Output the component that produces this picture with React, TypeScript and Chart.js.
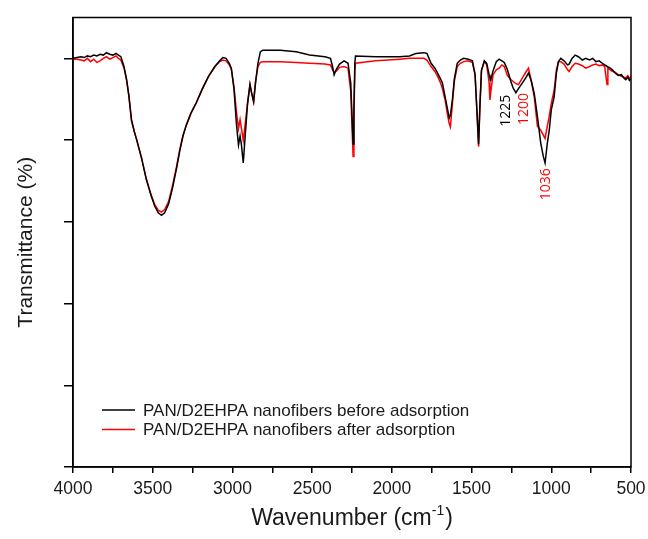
import React, { useEffect, useRef } from "react";
import { Chart, registerables } from "chart.js";

Chart.register(...registerables);

const wavenumber = [
  4000, 3975, 3950, 3930, 3910, 3890, 3870, 3850, 3830, 3810, 3790, 3770, 3750, 3730, 3715, 3700,
  3680, 3664, 3650, 3633, 3615, 3600, 3570, 3540, 3510, 3487, 3465, 3445, 3425, 3400, 3375, 3350,
  3330, 3310, 3290, 3260, 3226, 3190, 3150, 3110, 3080, 3060, 3040, 3020, 3007, 2990, 2975, 2962,
  2952, 2944, 2932, 2920, 2905, 2890, 2880, 2867, 2855, 2840, 2825, 2810, 2700, 2600, 2516, 2420,
  2385, 2372, 2362, 2350, 2328, 2300, 2275, 2258, 2248, 2243, 2238, 2232, 2228, 2100, 1950, 1890,
  1850, 1800, 1780, 1754, 1730, 1713, 1695, 1683, 1665, 1650, 1640, 1633, 1620, 1608, 1590, 1570,
  1550, 1520, 1495, 1478, 1465, 1456, 1448, 1438, 1420, 1405, 1390, 1385, 1379, 1365, 1345, 1327,
  1310, 1295, 1275, 1254, 1240, 1222, 1206, 1181, 1160, 1143, 1125, 1107, 1087, 1066, 1050, 1039,
  1025, 1013, 1000, 982, 968, 955, 940, 920, 898, 888, 870, 850, 830, 805, 784, 760,
  740, 720, 700, 680, 665, 655, 650, 645, 630, 617, 600, 580, 560, 545, 533, 520,
  510, 500,
];

const beforeAdsorption = [
  5.00, 5.01, 5.02, 5.01, 5.03, 5.02, 5.04, 5.03, 5.05, 5.04, 5.07, 5.05, 5.04, 5.06, 5.04, 5.02,
  4.90, 4.74, 4.55, 4.25, 4.10, 4.00, 3.78, 3.52, 3.32, 3.19, 3.11, 3.08, 3.11, 3.22, 3.42, 3.66,
  3.87, 4.05, 4.18, 4.33, 4.46, 4.62, 4.78, 4.90, 4.97, 5.01, 5.00, 4.94, 4.88, 4.62, 4.20, 3.94,
  4.05, 3.95, 3.72, 4.05, 4.45, 4.68, 4.58, 4.47, 4.70, 4.94, 5.08, 5.10, 5.10, 5.08, 5.04, 5.02,
  5.00, 4.90, 4.80, 4.86, 4.93, 4.97, 4.94, 4.70, 4.20, 3.95, 4.40, 4.95, 5.03, 5.02, 5.02, 5.03,
  5.06, 5.07, 5.06, 4.94, 4.88, 4.82, 4.75, 4.70, 4.52, 4.37, 4.27, 4.30, 4.50, 4.75, 4.94, 4.98,
  5.00, 4.99, 4.97, 4.80, 4.30, 3.95, 4.40, 4.85, 4.97, 4.94, 4.80, 4.76, 4.74, 4.85, 4.96, 4.99,
  4.97, 4.95, 4.86, 4.72, 4.64, 4.58, 4.63, 4.70, 4.76, 4.82, 4.72, 4.57, 4.29, 3.96, 3.80, 3.72,
  3.96, 4.12, 4.37, 4.53, 4.82, 4.96, 5.00, 4.97, 4.92, 4.93, 5.00, 5.04, 5.02, 4.98, 5.00, 4.98,
  5.00, 4.96, 4.97, 4.94, 4.92, 4.91, 4.90, 4.90, 4.88, 4.86, 4.82, 4.79, 4.80, 4.76, 4.74, 4.77,
  4.73, 4.75,
];

const afterAdsorption = [
  4.99, 4.99, 4.98, 4.97, 5.00, 4.96, 4.99, 4.95, 4.97, 5.00, 5.02, 4.99, 5.01, 5.03, 5.00, 4.98,
  4.88, 4.74, 4.55, 4.23, 4.10, 4.00, 3.78, 3.52, 3.33, 3.21, 3.14, 3.12, 3.15, 3.25, 3.45, 3.68,
  3.89, 4.06, 4.18, 4.33, 4.46, 4.62, 4.78, 4.90, 4.96, 4.98, 4.97, 4.92, 4.87, 4.65, 4.35, 4.14,
  4.25, 4.15, 4.00, 4.20, 4.45, 4.68, 4.58, 4.47, 4.72, 4.90, 4.95, 4.96, 4.96, 4.95, 4.94, 4.93,
  4.92, 4.86, 4.83, 4.84, 4.89, 4.90, 4.88, 4.60, 4.05, 3.80, 4.30, 4.85, 4.94, 4.97, 4.99, 5.00,
  5.00, 5.00, 4.98, 4.90, 4.84, 4.78, 4.70, 4.63, 4.48, 4.30, 4.20, 4.16, 4.45, 4.72, 4.90, 4.94,
  4.96, 4.97, 4.95, 4.80, 4.30, 3.92, 4.40, 4.85, 4.96, 4.92, 4.70, 4.49, 4.60, 4.80, 4.86, 4.88,
  4.92, 4.90, 4.79, 4.74, 4.72, 4.69, 4.68, 4.76, 4.83, 4.88, 4.72, 4.53, 4.17, 4.12, 4.06, 4.02,
  4.17, 4.29, 4.45, 4.61, 4.86, 4.96, 4.96, 4.93, 4.86, 4.84, 4.90, 4.94, 4.93, 4.91, 4.88, 4.90,
  4.92, 4.93, 4.91, 4.92, 4.90, 4.75, 4.68, 4.88, 4.86, 4.84, 4.83, 4.80, 4.78, 4.77, 4.76, 4.79,
  4.75, 4.78,
];

const xTickValues = [4000, 3750, 3500, 3250, 3000, 2750, 2500, 2250, 2000, 1750, 1500, 1250, 1000, 750, 500];
const yTickValues = [0, 1, 2, 3, 4, 5];

const seriesNames = [
  "PAN/D2EHPA nanofibers before adsorption",
  "PAN/D2EHPA nanofibers after adsorption",
];
const seriesColors = ["#000000", "#ff0000"];

const peakLabels = ["1225", "1200", "1036"];
const peakLabelWn = [1285, 1172, 1034];
const peakLabelT = [4.36, 4.38, 3.46];
const peakLabelColors = ["#000000", "#ff0000", "#ff0000"];

const ARIAL = "'Liberation Sans', Arial, sans-serif";

const decorPlugin = {
  id: "decor",
  afterDraw(chart: any) {
    const { ctx, chartArea, scales } = chart;
    const { left, right, top, bottom } = chartArea;
    ctx.save();
    // frame
    ctx.strokeStyle = "#000";
    ctx.lineWidth = 1.5;
    ctx.strokeRect(left, top, right - left, bottom - top);

    // legend
    const lx0 = left + 29;
    const lx1 = left + 62;
    const ly = [bottom - 57, bottom - 37.5];
    ctx.font = `17px ${ARIAL}`;
    ctx.textBaseline = "middle";
    ctx.textAlign = "left";
    for (let i = 0; i < seriesNames.length; i++) {
      ctx.strokeStyle = seriesColors[i];
      ctx.lineWidth = 1.5;
      ctx.beginPath();
      ctx.moveTo(lx0, ly[i]);
      ctx.lineTo(lx1, ly[i]);
      ctx.stroke();
      ctx.fillStyle = "#1a1a1a";
      ctx.fillText(seriesNames[i], lx1 + 8, ly[i] + 1);
    }

    // peak labels
    ctx.font = "14px 'Open Sans', sans-serif";
    ctx.textAlign = "center";
    ctx.textBaseline = "middle";
    for (let i = 0; i < peakLabels.length; i++) {
      const px = scales.x.getPixelForValue(peakLabelWn[i]);
      const py = scales.y.getPixelForValue(peakLabelT[i]);
      ctx.save();
      ctx.translate(px, py);
      ctx.rotate(-Math.PI / 2);
      ctx.fillStyle = peakLabelColors[i];
      ctx.fillText(peakLabels[i], 0, 0);
      ctx.restore();
    }

    // y title
    ctx.save();
    ctx.font = `21px ${ARIAL}`;
    ctx.fillStyle = "#1a1a1a";
    ctx.translate(26, (top + bottom) / 2);
    ctx.rotate(-Math.PI / 2);
    ctx.textAlign = "center";
    ctx.textBaseline = "middle";
    ctx.fillText("Transmittance (%)", 0, 0);
    ctx.restore();

    // x title with superscript
    const mainFont = `23px ${ARIAL}`;
    const supFont = `14px ${ARIAL}`;
    const p1 = "Wavenumber (cm";
    const sup = "-1";
    const p2 = ")";
    ctx.font = mainFont;
    const w1 = ctx.measureText(p1).width;
    const w3 = ctx.measureText(p2).width;
    ctx.font = supFont;
    const w2 = ctx.measureText(sup).width;
    const total = w1 + w2 + w3 + 1;
    let x = (left + right) / 2 - total / 2;
    const base = 525;
    ctx.textAlign = "left";
    ctx.textBaseline = "alphabetic";
    ctx.fillStyle = "#1a1a1a";
    ctx.font = mainFont;
    ctx.fillText(p1, x, base);
    x += w1;
    ctx.font = supFont;
    ctx.fillText(sup, x, base - 10);
    x += w2 + 1;
    ctx.font = mainFont;
    ctx.fillText(p2, x, base);
    ctx.restore();
  },
};

export default function App() {
  const canvasRef = useRef<HTMLCanvasElement | null>(null);

  useEffect(() => {
    const canvas = canvasRef.current;
    if (!canvas) return;
    const datasets = [beforeAdsorption, afterAdsorption].map((vals, i) => ({
      label: seriesNames[i],
      data: wavenumber.map((w, j) => ({ x: w, y: vals[j] })),
      borderColor: seriesColors[i],
      backgroundColor: seriesColors[i],
      borderWidth: 1.5,
      pointRadius: 0,
      tension: 0,
      fill: false,
    }));
    const chart = new Chart(canvas, {
      type: "line",
      data: { datasets },
      options: {
        animation: false,
        responsive: false,
        maintainAspectRatio: false,
        layout: { padding: { left: 0, top: 17.5, right: 17, bottom: 0 } },
        plugins: { legend: { display: false }, tooltip: { enabled: false } },
        scales: {
          x: {
            type: "linear",
            reverse: true,
            min: 500,
            max: 4000,
            afterBuildTicks: (scale: any) => {
              scale.ticks = xTickValues.map((v) => ({ value: v }));
            },
            afterFit: (scale: any) => {
              scale.height = 72;
              scale.paddingLeft = 0;
              scale.paddingRight = 0;
            },
            grid: {
              display: true,
              drawOnChartArea: false,
              drawTicks: true,
              tickLength: 6,
              color: "#000",
              lineWidth: 1.5,
            },
            border: { display: true, color: "#000", width: 1.5 },
            ticks: {
              autoSkip: false,
              maxRotation: 0,
              padding: 6,
              color: "#1a1a1a",
              font: { family: "'Liberation Sans', Arial, sans-serif", size: 17.5 },
              callback: (v: any) => (Number(v) % 500 === 0 ? String(v) : ""),
            },
          },
          y: {
            type: "linear",
            min: 0,
            max: 5.5,
            afterBuildTicks: (scale: any) => {
              scale.ticks = yTickValues.map((v) => ({ value: v }));
            },
            afterFit: (scale: any) => {
              scale.width = 73;
              scale.paddingTop = 0;
              scale.paddingBottom = 0;
            },
            grid: {
              display: true,
              drawOnChartArea: false,
              drawTicks: true,
              tickLength: 9,
              color: "#000",
              lineWidth: 1.5,
            },
            border: { display: true, color: "#000", width: 1.5 },
            ticks: {
              padding: 0,
              callback: () => "",
            },
          },
        },
      },
      plugins: [decorPlugin],
    });
    return () => chart.destroy();
  }, []);

  return (
    <div style={{ position: "fixed", left: 0, top: 0, width: 648, height: 539, background: "#fff" }}>
      <canvas ref={canvasRef} width={648} height={539} style={{ width: 648, height: 539, display: "block" }} />
    </div>
  );
}
